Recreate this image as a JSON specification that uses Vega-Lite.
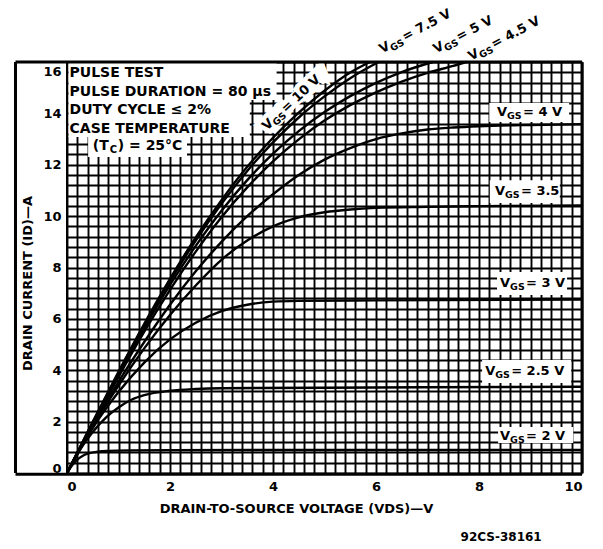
{
  "$schema": "https://vega.github.io/schema/vega-lite/v6.json",
  "autosize": {"type": "none"},
  "width": 515,
  "height": 411,
  "padding": {"left": 67, "top": 62, "right": 21, "bottom": 76},
  "background": "white",
  "config": {
    "view": {"stroke": null},
    "font": "DejaVu Sans",
    "text": {"font": "DejaVu Sans", "fontWeight": "bold", "color": "black"}
  },
  "datasets": {
    "curves": [
      {"vgs": "10 V", "vds": 0, "id": 0}, {"vgs": "10 V", "vds": 0.5, "id": 1.99}, {"vgs": "10 V", "vds": 1, "id": 3.94}, {"vgs": "10 V", "vds": 1.5, "id": 5.81}, {"vgs": "10 V", "vds": 2, "id": 7.56}, {"vgs": "10 V", "vds": 2.5, "id": 9.17}, {"vgs": "10 V", "vds": 3, "id": 10.62}, {"vgs": "10 V", "vds": 3.5, "id": 11.92}, {"vgs": "10 V", "vds": 4, "id": 13.05}, {"vgs": "10 V", "vds": 4.5, "id": 14.03}, {"vgs": "10 V", "vds": 5, "id": 14.88}, {"vgs": "10 V", "vds": 5.5, "id": 15.59}, {"vgs": "10 V", "vds": 5.88, "id": 16},
      {"vgs": "7.5 V", "vds": 0, "id": 0}, {"vgs": "7.5 V", "vds": 0.5, "id": 1.97}, {"vgs": "7.5 V", "vds": 1, "id": 3.89}, {"vgs": "7.5 V", "vds": 1.5, "id": 5.74}, {"vgs": "7.5 V", "vds": 2, "id": 7.46}, {"vgs": "7.5 V", "vds": 2.5, "id": 9.05}, {"vgs": "7.5 V", "vds": 3, "id": 10.48}, {"vgs": "7.5 V", "vds": 3.5, "id": 11.76}, {"vgs": "7.5 V", "vds": 4, "id": 12.87}, {"vgs": "7.5 V", "vds": 4.5, "id": 13.84}, {"vgs": "7.5 V", "vds": 5, "id": 14.66}, {"vgs": "7.5 V", "vds": 5.5, "id": 15.37}, {"vgs": "7.5 V", "vds": 6.05, "id": 16},
      {"vgs": "5 V", "vds": 0, "id": 0}, {"vgs": "5 V", "vds": 0.5, "id": 1.94}, {"vgs": "5 V", "vds": 1, "id": 3.84}, {"vgs": "5 V", "vds": 1.5, "id": 5.64}, {"vgs": "5 V", "vds": 2, "id": 7.32}, {"vgs": "5 V", "vds": 2.5, "id": 8.84}, {"vgs": "5 V", "vds": 3, "id": 10.21}, {"vgs": "5 V", "vds": 3.5, "id": 11.4}, {"vgs": "5 V", "vds": 4, "id": 12.43}, {"vgs": "5 V", "vds": 4.5, "id": 13.31}, {"vgs": "5 V", "vds": 5, "id": 14.05}, {"vgs": "5 V", "vds": 5.5, "id": 14.67}, {"vgs": "5 V", "vds": 6, "id": 15.19}, {"vgs": "5 V", "vds": 6.5, "id": 15.61}, {"vgs": "5 V", "vds": 7.1, "id": 16},
      {"vgs": "4.5 V", "vds": 0, "id": 0}, {"vgs": "4.5 V", "vds": 0.5, "id": 1.89}, {"vgs": "4.5 V", "vds": 1, "id": 3.74}, {"vgs": "4.5 V", "vds": 1.5, "id": 5.5}, {"vgs": "4.5 V", "vds": 2, "id": 7.13}, {"vgs": "4.5 V", "vds": 2.5, "id": 8.62}, {"vgs": "4.5 V", "vds": 3, "id": 9.96}, {"vgs": "4.5 V", "vds": 3.5, "id": 11.12}, {"vgs": "4.5 V", "vds": 4, "id": 12.13}, {"vgs": "4.5 V", "vds": 4.5, "id": 12.99}, {"vgs": "4.5 V", "vds": 5, "id": 13.72}, {"vgs": "4.5 V", "vds": 5.5, "id": 14.32}, {"vgs": "4.5 V", "vds": 6, "id": 14.82}, {"vgs": "4.5 V", "vds": 6.5, "id": 15.24}, {"vgs": "4.5 V", "vds": 7, "id": 15.58}, {"vgs": "4.5 V", "vds": 7.5, "id": 15.85}, {"vgs": "4.5 V", "vds": 7.75, "id": 16},
      {"vgs": "4 V", "vds": 0, "id": 0}, {"vgs": "4 V", "vds": 0.5, "id": 1.85}, {"vgs": "4 V", "vds": 1, "id": 3.55}, {"vgs": "4 V", "vds": 1.5, "id": 5.1}, {"vgs": "4 V", "vds": 2, "id": 6.55}, {"vgs": "4 V", "vds": 2.5, "id": 7.85}, {"vgs": "4 V", "vds": 3, "id": 9.0}, {"vgs": "4 V", "vds": 3.5, "id": 10.0}, {"vgs": "4 V", "vds": 4, "id": 10.85}, {"vgs": "4 V", "vds": 4.5, "id": 11.6}, {"vgs": "4 V", "vds": 5, "id": 12.2}, {"vgs": "4 V", "vds": 5.5, "id": 12.65}, {"vgs": "4 V", "vds": 6, "id": 13.0}, {"vgs": "4 V", "vds": 6.5, "id": 13.22}, {"vgs": "4 V", "vds": 7, "id": 13.37}, {"vgs": "4 V", "vds": 7.5, "id": 13.45}, {"vgs": "4 V", "vds": 8, "id": 13.5}, {"vgs": "4 V", "vds": 9, "id": 13.55}, {"vgs": "4 V", "vds": 10, "id": 13.58},
      {"vgs": "3.5 V", "vds": 0, "id": 0}, {"vgs": "3.5 V", "vds": 0.5, "id": 1.8}, {"vgs": "3.5 V", "vds": 1, "id": 3.4}, {"vgs": "3.5 V", "vds": 1.5, "id": 4.85}, {"vgs": "3.5 V", "vds": 2, "id": 6.15}, {"vgs": "3.5 V", "vds": 2.5, "id": 7.3}, {"vgs": "3.5 V", "vds": 3, "id": 8.3}, {"vgs": "3.5 V", "vds": 3.5, "id": 9.05}, {"vgs": "3.5 V", "vds": 4, "id": 9.6}, {"vgs": "3.5 V", "vds": 4.5, "id": 9.95}, {"vgs": "3.5 V", "vds": 5, "id": 10.15}, {"vgs": "3.5 V", "vds": 5.5, "id": 10.26}, {"vgs": "3.5 V", "vds": 6, "id": 10.32}, {"vgs": "3.5 V", "vds": 7, "id": 10.36}, {"vgs": "3.5 V", "vds": 8, "id": 10.39}, {"vgs": "3.5 V", "vds": 10, "id": 10.42},
      {"vgs": "3 V", "vds": 0, "id": 0}, {"vgs": "3 V", "vds": 0.5, "id": 1.75}, {"vgs": "3 V", "vds": 1, "id": 3.15}, {"vgs": "3 V", "vds": 1.5, "id": 4.3}, {"vgs": "3 V", "vds": 2, "id": 5.2}, {"vgs": "3 V", "vds": 2.5, "id": 5.85}, {"vgs": "3 V", "vds": 3, "id": 6.3}, {"vgs": "3 V", "vds": 3.5, "id": 6.55}, {"vgs": "3 V", "vds": 4, "id": 6.67}, {"vgs": "3 V", "vds": 4.5, "id": 6.7}, {"vgs": "3 V", "vds": 6, "id": 6.72}, {"vgs": "3 V", "vds": 10, "id": 6.75},
      {"vgs": "2.5 V", "vds": 0, "id": 0}, {"vgs": "2.5 V", "vds": 0.25, "id": 0.9}, {"vgs": "2.5 V", "vds": 0.5, "id": 1.6}, {"vgs": "2.5 V", "vds": 0.75, "id": 2.15}, {"vgs": "2.5 V", "vds": 1, "id": 2.55}, {"vgs": "2.5 V", "vds": 1.25, "id": 2.85}, {"vgs": "2.5 V", "vds": 1.5, "id": 3.03}, {"vgs": "2.5 V", "vds": 2, "id": 3.2}, {"vgs": "2.5 V", "vds": 2.5, "id": 3.27}, {"vgs": "2.5 V", "vds": 3, "id": 3.3}, {"vgs": "2.5 V", "vds": 5, "id": 3.32}, {"vgs": "2.5 V", "vds": 10, "id": 3.36},
      {"vgs": "2 V", "vds": 0, "id": 0}, {"vgs": "2 V", "vds": 0.1, "id": 0.3}, {"vgs": "2 V", "vds": 0.2, "id": 0.52}, {"vgs": "2 V", "vds": 0.3, "id": 0.66}, {"vgs": "2 V", "vds": 0.4, "id": 0.75}, {"vgs": "2 V", "vds": 0.6, "id": 0.83}, {"vgs": "2 V", "vds": 0.8, "id": 0.86}, {"vgs": "2 V", "vds": 1.2, "id": 0.88}, {"vgs": "2 V", "vds": 2, "id": 0.89}, {"vgs": "2 V", "vds": 10, "id": 0.9}
    ]
  },
  "layer": [
    {"data": {"values": [{}]}, "mark": {"type": "rect", "fill": "white"}, "encoding": {"x": {"datum": 0.03}, "x2": {"datum": 4.07}, "y": {"datum": 14.52}, "y2": {"datum": 15.97}}},
    {"data": {"values": [{}]}, "mark": {"type": "rect", "fill": "white"}, "encoding": {"x": {"datum": 0.03}, "x2": {"datum": 3.55}, "y": {"datum": 13.08}, "y2": {"datum": 14.52}}},
    {"data": {"values": [{}]}, "mark": {"type": "rect", "fill": "white"}, "encoding": {"x": {"datum": 0.41}, "x2": {"datum": 2.33}, "y": {"datum": 12.3}, "y2": {"datum": 13.08}}},
    {"data": {"values": [{}]}, "mark": {"type": "rect", "fill": "white"}, "encoding": {"x": {"datum": 8.2}, "x2": {"datum": 9.75}, "y": {"datum": 13.66}, "y2": {"datum": 14.4}}},
    {"data": {"values": [{}]}, "mark": {"type": "rect", "fill": "white"}, "encoding": {"x": {"datum": 8.21}, "x2": {"datum": 9.57}, "y": {"datum": 10.51}, "y2": {"datum": 11.4}}},
    {"data": {"values": [{}]}, "mark": {"type": "rect", "fill": "white"}, "encoding": {"x": {"datum": 8.35}, "x2": {"datum": 9.71}, "y": {"datum": 6.93}, "y2": {"datum": 7.82}}},
    {"data": {"values": [{}]}, "mark": {"type": "rect", "fill": "white"}, "encoding": {"x": {"datum": 8.06}, "x2": {"datum": 9.79}, "y": {"datum": 3.5}, "y2": {"datum": 4.4}}},
    {"data": {"values": [{}]}, "mark": {"type": "rect", "fill": "white"}, "encoding": {"x": {"datum": 8.37}, "x2": {"datum": 9.83}, "y": {"datum": 1.17}, "y2": {"datum": 1.79}}},
    {"data": {"values": [{}]}, "mark": {"type": "text", "text": "VGS = 10 V", "angle": 317, "align": "left", "baseline": "middle", "fontSize": 13, "color": "white", "stroke": "white", "strokeWidth": 9}, "encoding": {"x": {"datum": 3.83}, "y": {"datum": 13.43}}},
    {
      "data": {"name": "curves"},
      "mark": {"type": "line", "color": "black", "strokeWidth": 2.4, "interpolate": "monotone"},
      "encoding": {
        "x": {
          "field": "vds", "type": "quantitative",
          "scale": {"domain": [0, 10], "nice": false, "zero": false},
          "axis": {
            "title": "DRAIN-TO-SOURCE VOLTAGE (VDS)—V",
            "values": [0,0.2,0.4,0.6,0.8,1,1.2,1.4,1.6,1.8,2,2.2,2.4,2.6,2.8,3,3.2,3.4,3.6,3.8,4,4.2,4.4,4.6,4.8,5,5.2,5.4,5.6,5.8,6,6.2,6.4,6.6,6.8,7,7.2,7.4,7.6,7.8,8,8.2,8.4,8.6,8.8,9,9.2,9.4,9.6,9.8,10],
            "tickCount": 500,
            "labelOverlap": false,
            "labelExpr": "datum.value % 2 === 0 ? format(datum.value, 'd') : ''",
            "grid": true, "gridColor": "black", "gridWidth": 1.9, "gridOpacity": 1,
            "ticks": false, "domain": false,
            "labelFont": "DejaVu Sans", "labelFontWeight": "bold", "labelFontSize": 13, "labelColor": "black", "labelPadding": 7,
            "titleFont": "DejaVu Sans", "titleFontWeight": "bold", "titleFontSize": 13, "titleColor": "black",
            "titleX": 229, "titleY": 35, "titleAlign": "center", "titleBaseline": "middle", "titleAnchor": null
          }
        },
        "y": {
          "field": "id", "type": "quantitative",
          "scale": {"domain": [0, 16], "nice": false},
          "axis": {
            "title": "DRAIN CURRENT (ID)—A",
            "values": [0,0.4,0.8,1.2,1.6,2,2.4,2.8,3.2,3.6,4,4.4,4.8,5.2,5.6,6,6.4,6.8,7.2,7.6,8,8.4,8.8,9.2,9.6,10,10.4,10.8,11.2,11.6,12,12.4,12.8,13.2,13.6,14,14.4,14.8,15.2,15.6,16],
            "tickCount": 500,
            "labelOverlap": false,
            "labelExpr": "datum.value % 2 === 0 ? format(datum.value, 'd') : ''",
            "labelOffset": {"condition": [{"test": "datum.value === 16", "value": 9}, {"test": "datum.value === 0", "value": -5}], "value": 0},
            "grid": true, "gridColor": "black", "gridWidth": 1.9, "gridOpacity": 1,
            "ticks": false, "domain": false,
            "labelFont": "DejaVu Sans", "labelFontWeight": "bold", "labelFontSize": 13, "labelColor": "black", "labelPadding": 6,
            "titleFont": "DejaVu Sans", "titleFontWeight": "bold", "titleFontSize": 13, "titleColor": "black",
            "titleX": -40, "titleY": 221, "titleAngle": -90, "titleAlign": "center", "titleBaseline": "middle", "titleAnchor": null
          }
        },
        "detail": {"field": "vgs"}
      }
    },
    {"data": {"values": [{}]}, "mark": {"type": "rule", "color": "black", "strokeWidth": 3}, "encoding": {"x": {"datum": -1}, "y": {"datum": 0}, "y2": {"datum": 16}}},
    {"data": {"values": [{}]}, "mark": {"type": "rule", "color": "black", "strokeWidth": 3}, "encoding": {"x": {"datum": 10}, "y": {"datum": 0}, "y2": {"datum": 16}}},
    {"data": {"values": [{}]}, "mark": {"type": "rule", "color": "black", "strokeWidth": 2}, "encoding": {"x": {"datum": 0}, "y": {"datum": 0}, "y2": {"datum": 16}}},
    {"data": {"values": [{}]}, "mark": {"type": "rule", "color": "black", "strokeWidth": 3}, "encoding": {"y": {"datum": 16}, "x": {"datum": -1}, "x2": {"datum": 10}}},
    {"data": {"values": [{}]}, "mark": {"type": "rule", "color": "black", "strokeWidth": 3}, "encoding": {"y": {"datum": -0.05}, "x": {"datum": -1}, "x2": {"datum": 10}}},
    {"data": {"values": [{}]}, "mark": {"type": "text", "text": ["PULSE TEST", "PULSE DURATION = 80 μs", "DUTY CYCLE ≤ 2%", "CASE TEMPERATURE"], "lineHeight": 18.5, "align": "left", "baseline": "alphabetic", "fontSize": 14}, "encoding": {"x": {"datum": 0.05}, "y": {"datum": 15.4}}},
    {"data": {"values": [{}]}, "mark": {"type": "text", "text": "(T", "align": "left", "baseline": "middle", "fontSize": 14}, "encoding": {"x": {"datum": 0.5}, "y": {"datum": 12.73}}},
    {"data": {"values": [{}]}, "mark": {"type": "text", "text": "C", "align": "left", "baseline": "middle", "fontSize": 10, "dx": 17, "dy": 4}, "encoding": {"x": {"datum": 0.5}, "y": {"datum": 12.73}}},
    {"data": {"values": [{}]}, "mark": {"type": "text", "text": ") = 25°C", "align": "left", "baseline": "middle", "fontSize": 14, "dx": 25}, "encoding": {"x": {"datum": 0.5}, "y": {"datum": 12.73}}},
    {"data": {"values": [{"t": "= 4 V", "a": 8.35, "b": 14.05}, {"t": "= 3.5", "a": 8.31, "b": 10.98}, {"t": "= 3 V", "a": 8.41, "b": 7.4}, {"t": "= 2.5 V", "a": 8.12, "b": 3.97}, {"t": "= 2 V", "a": 8.41, "b": 1.44}]},
     "layer": [
       {"mark": {"type": "text", "text": "V", "align": "left", "baseline": "middle", "fontSize": 13}, "encoding": {"x": {"field": "a", "type": "quantitative"}, "y": {"field": "b", "type": "quantitative"}}},
       {"mark": {"type": "text", "text": "GS", "align": "left", "baseline": "middle", "fontSize": 9.5, "dx": 10, "dy": 4}, "encoding": {"x": {"field": "a", "type": "quantitative"}, "y": {"field": "b", "type": "quantitative"}}},
       {"mark": {"type": "text", "align": "left", "baseline": "middle", "fontSize": 13, "dx": 26}, "encoding": {"x": {"field": "a", "type": "quantitative"}, "y": {"field": "b", "type": "quantitative"}, "text": {"field": "t"}}}
     ]},
    {"data": {"values": [{"t": "= 10 V", "a": 3.83, "b": 13.43}]},
     "layer": [
       {"mark": {"type": "text", "text": "V", "angle": 317, "align": "left", "baseline": "middle", "fontSize": 13}, "encoding": {"x": {"field": "a", "type": "quantitative"}, "y": {"field": "b", "type": "quantitative"}}},
       {"mark": {"type": "text", "text": "GS", "angle": 317, "align": "left", "baseline": "middle", "fontSize": 9.5, "dx": 10, "dy": 4}, "encoding": {"x": {"field": "a", "type": "quantitative"}, "y": {"field": "b", "type": "quantitative"}}},
       {"mark": {"type": "text", "angle": 317, "align": "left", "baseline": "middle", "fontSize": 13, "dx": 26}, "encoding": {"x": {"field": "a", "type": "quantitative"}, "y": {"field": "b", "type": "quantitative"}, "text": {"field": "t"}}}
     ]},
    {"data": {"values": [{"t": "= 7.5 V", "a": 6.08, "b": 16.47}, {"t": "= 5 V", "a": 7.13, "b": 16.47}, {"t": "= 4.5 V", "a": 7.81, "b": 16.19}]},
     "layer": [
       {"mark": {"type": "text", "text": "V", "angle": 332, "align": "left", "baseline": "middle", "fontSize": 13}, "encoding": {"x": {"field": "a", "type": "quantitative"}, "y": {"field": "b", "type": "quantitative"}}},
       {"mark": {"type": "text", "text": "GS", "angle": 332, "align": "left", "baseline": "middle", "fontSize": 9.5, "dx": 10, "dy": 4}, "encoding": {"x": {"field": "a", "type": "quantitative"}, "y": {"field": "b", "type": "quantitative"}}},
       {"mark": {"type": "text", "angle": 332, "align": "left", "baseline": "middle", "fontSize": 13, "dx": 26}, "encoding": {"x": {"field": "a", "type": "quantitative"}, "y": {"field": "b", "type": "quantitative"}, "text": {"field": "t"}}}
     ]},
    {"data": {"values": [{}]}, "mark": {"type": "text", "text": "92CS-38161", "align": "center", "baseline": "middle", "fontSize": 12}, "encoding": {"x": {"datum": 8.43}, "y": {"datum": -2.49}}}
  ]
}
